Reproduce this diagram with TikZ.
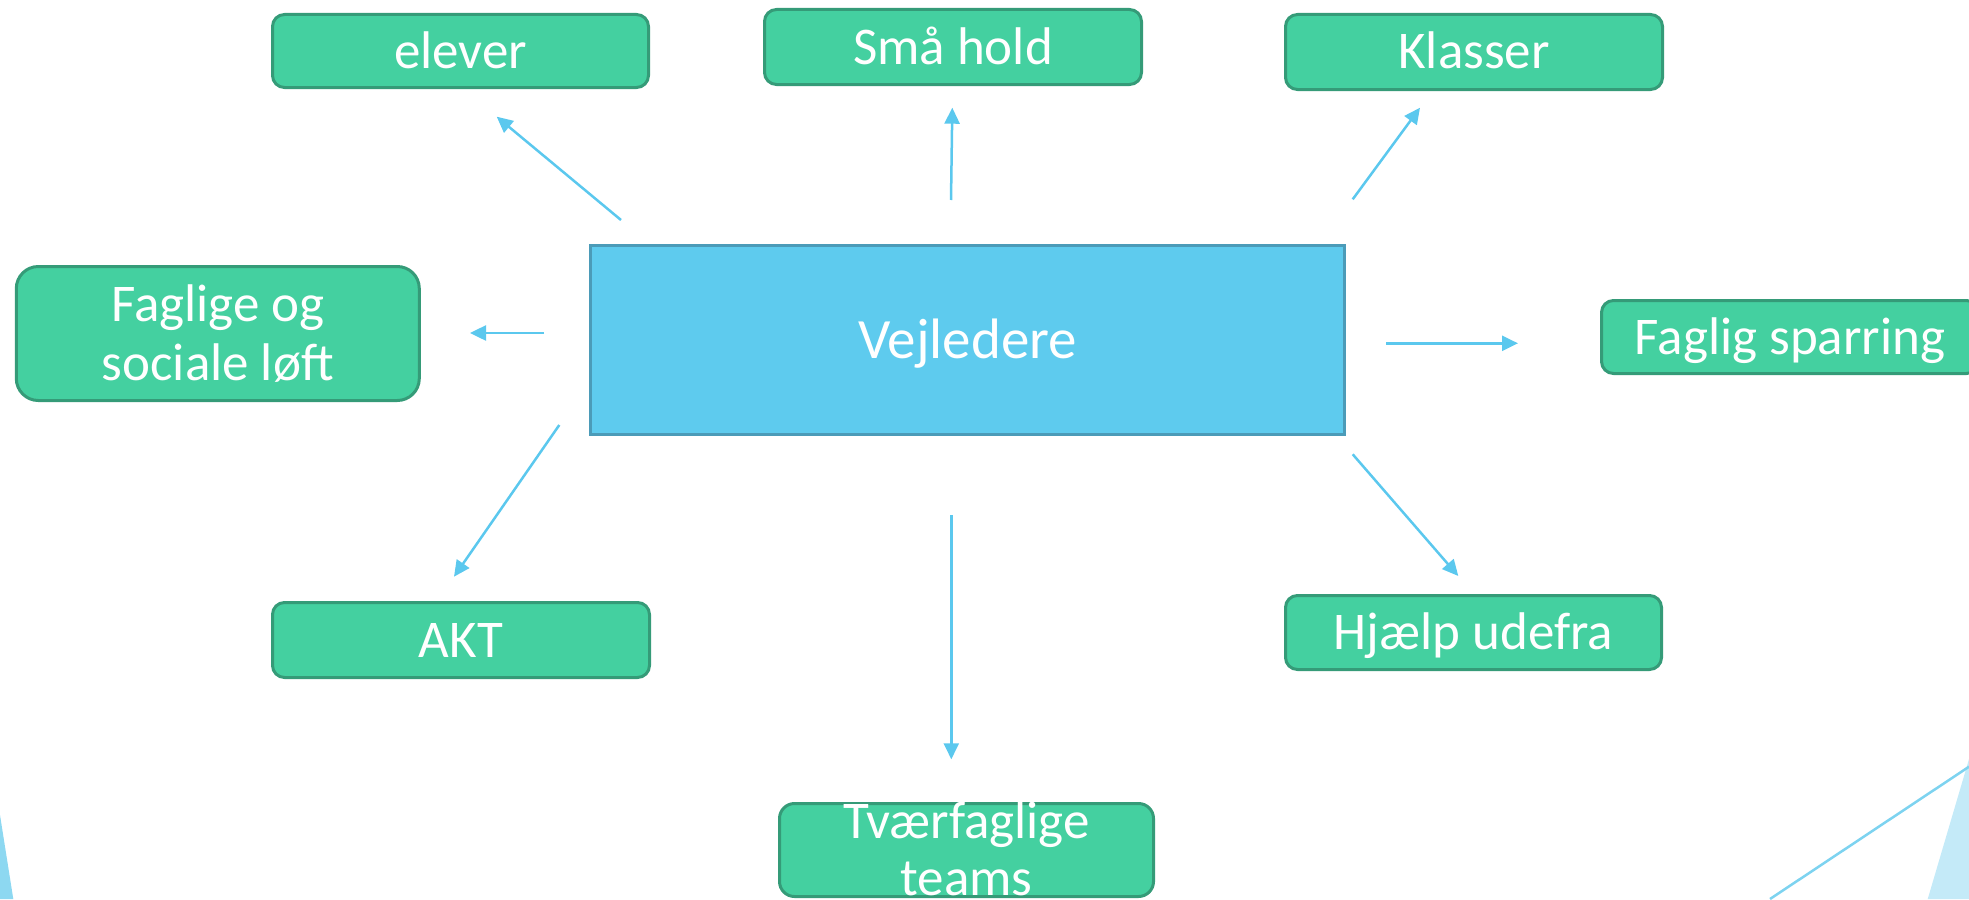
\documentclass[tikz,border=0pt]{standalone}
\usepackage{fontspec}
\setmainfont{Carlito}
\usetikzlibrary{arrows.meta}
\definecolor{gfill}{HTML}{44D0A0}
\definecolor{gborder}{HTML}{359B78}
\definecolor{bfill}{HTML}{5ECBEE}
\definecolor{bborder}{HTML}{4B9BB8}
\definecolor{arrowc}{HTML}{5BC8EE}
\definecolor{deco}{HTML}{8DD8F1}
\definecolor{decolight}{HTML}{C4EAF8}
\definecolor{decoline}{HTML}{7DD3F0}
\begin{document}
\begin{tikzpicture}[x=1pt,y=-1pt,
  gbox/.style={draw=gborder, fill=gfill, line width=3pt, rounded corners=12pt, text=white,
    font=\fontsize{53}{58}\selectfont, text height=34pt, text depth=0pt, inner sep=0pt},
  txt/.style={text=white, font=\fontsize{53}{58}\selectfont, inner sep=0pt, anchor=base},
  conn/.style={draw=arrowc, line width=2.5pt, -{Triangle[length=16pt,width=15pt]}}]
\useasboundingbox (0,0) rectangle (1969,899);
\clip (0,0) rectangle (1969,899);
% background decorations
\fill[deco] (0,815) -- (13.3,899) -- (0,899) -- cycle;
\fill[decolight] (1969,759) -- (1927.7,899) -- (1969,899) -- cycle;
\draw[decoline, line width=2.5pt] (1969,766.7) -- (1770,899);
% central node
\node[draw=bborder, fill=bfill, line width=3pt, minimum width=754pt, minimum height=189pt,
  text=white, font=\fontsize{57}{62}\selectfont, text height=36.7pt, text depth=0pt, inner sep=0pt]
  (vej) at (967.5,340) {Vejledere};
% outer nodes
\node[gbox, minimum width=376pt, minimum height=73pt] (elever) at (460.5,51) {elever};
\node[gbox, minimum width=377pt, minimum height=75pt] (smaa) at (953,47) {Små hold};
\node[gbox, minimum width=377pt, minimum height=75pt] (klasser) at (1474,52) {Klasser};
\node[gbox, minimum width=377pt, minimum height=73pt] (sparring) at (1790,337) {Faglig sparring};
\node[gbox, minimum width=377pt, minimum height=75pt] (akt) at (461,640) {AKT};
\node[gbox, minimum width=376pt, minimum height=74pt] (hjaelp) at (1473.5,632.5) {Hjælp udefra};
\node[gbox, rounded corners=22pt, minimum width=403pt, minimum height=134pt] (faglige) at (217.8,333.5) {};
\node[txt] (faglige1) at (217.8,321.7) {Faglige og};
\node[txt] (faglige2) at (217.8,380) {sociale løft};
\node[gbox, rounded corners=15pt, minimum width=374pt, minimum height=93pt] (tvaer) at (966.5,850) {};
\node[txt] (tvaer1) at (966.5,838.3) {Tværfaglige};
\node[txt] (tvaer2) at (966.5,895) {teams};
% connector end points
\coordinate (a1s) at (621,220);      \coordinate (a1e) at (496.7,116.7);
\coordinate (a2s) at (951,200);      \coordinate (a2e) at (952.3,107.7);
\coordinate (a3s) at (1352.7,199.3); \coordinate (a3e) at (1420,107.7);
\coordinate (a4s) at (544,333);      \coordinate (a4e) at (470,333);
\coordinate (a5s) at (1386,343.3);   \coordinate (a5e) at (1518,343.3);
\coordinate (a6s) at (559.3,425);    \coordinate (a6e) at (454,576.7);
\coordinate (a7s) at (1352.7,454.3); \coordinate (a7e) at (1458.3,576);
\coordinate (a8s) at (951.3,515);    \coordinate (a8e) at (951.3,759.3);
\draw[conn] (a1s) -- (a1e);
\draw[conn] (a2s) -- (a2e);
\draw[conn] (a3s) -- (a3e);
\draw[conn] (a4s) -- (a4e);
\draw[conn] (a5s) -- (a5e);
\draw[conn] (a6s) -- (a6e);
\draw[conn] (a7s) -- (a7e);
\draw[conn] (a8s) -- (a8e);
\end{tikzpicture}
\end{document}
